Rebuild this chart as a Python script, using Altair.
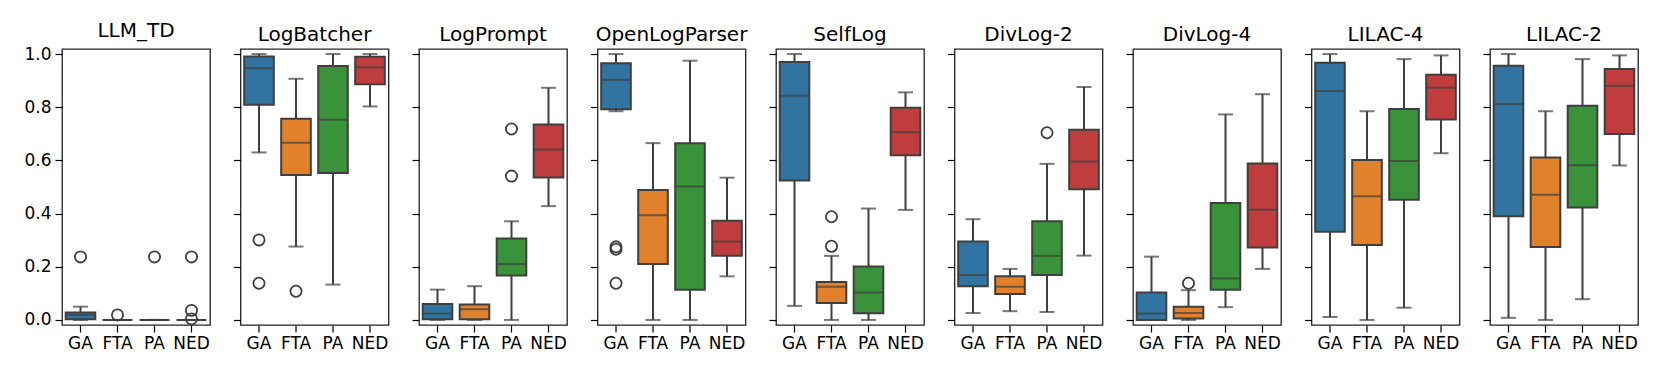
import altair as alt
import pandas as pd

MODELS = ["LLM_TD", "LogBatcher", "LogPrompt", "OpenLogParser", "SelfLog",
          "DivLog-2", "DivLog-4", "LILAC-4", "LILAC-2"]
METRICS = ["GA", "FTA", "PA", "NED"]
COLORS = ["#3274a1", "#e1812c", "#3a923a", "#c03d3e"]

# per model: [GA, FTA, PA, NED]
Q1 = [[0.003, 0.0, 0.0, 0.0], [0.809, 0.545, 0.553, 0.886], [0.003, 0.003, 0.167, 0.536],
      [0.792, 0.210, 0.114, 0.241], [0.524, 0.064, 0.025, 0.619], [0.127, 0.098, 0.169, 0.492],
      [0.0, 0.005, 0.114, 0.272], [0.332, 0.282, 0.452, 0.754], [0.390, 0.274, 0.423, 0.699]]
MED = [[0.019, 0.0, 0.0, 0.0], [0.947, 0.666, 0.753, 0.950], [0.024, 0.040, 0.210, 0.641],
       [0.903, 0.394, 0.502, 0.295], [0.843, 0.125, 0.103, 0.706], [0.169, 0.125, 0.241, 0.596],
       [0.024, 0.026, 0.156, 0.414], [0.861, 0.465, 0.598, 0.873], [0.812, 0.471, 0.582, 0.881]]
Q3 = [[0.028, 0.0, 0.0, 0.0], [0.991, 0.757, 0.955, 0.990], [0.060, 0.058, 0.306, 0.735],
      [0.965, 0.489, 0.665, 0.373], [0.970, 0.143, 0.201, 0.798], [0.295, 0.164, 0.371, 0.715],
      [0.103, 0.050, 0.440, 0.588], [0.967, 0.602, 0.793, 0.922], [0.956, 0.611, 0.806, 0.944]]
LO = [[0.0, 0.0, 0.0, 0.0], [0.630, 0.276, 0.133, 0.803], [0.0, 0.0, 0.0, 0.428],
      [0.785, 0.0, 0.0, 0.164], [0.053, 0.0, 0.0, 0.414], [0.026, 0.033, 0.030, 0.242],
      [0.0, 0.0, 0.048, 0.192], [0.011, 0.0, 0.046, 0.627], [0.008, 0.0, 0.078, 0.581]]
HI = [[0.050, 0.0, 0.0, 0.0], [1.0, 0.907, 1.0, 1.0], [0.114, 0.127, 0.371, 0.873],
      [1.0, 0.665, 0.975, 0.535], [1.0, 0.241, 0.419, 0.856], [0.379, 0.192, 0.587, 0.876],
      [0.238, 0.112, 0.773, 0.849], [1.0, 0.785, 0.981, 0.995], [1.0, 0.785, 0.981, 0.995]]

OUT_MODEL = ["LLM_TD", "LLM_TD", "LLM_TD", "LLM_TD", "LLM_TD", "LLM_TD",
             "LogBatcher", "LogBatcher", "LogBatcher",
             "LogPrompt", "LogPrompt",
             "OpenLogParser", "OpenLogParser", "OpenLogParser",
             "SelfLog", "SelfLog",
             "DivLog-2",
             "DivLog-4"]
OUT_METRIC = ["GA", "FTA", "PA", "NED", "NED", "NED",
              "GA", "GA", "FTA",
              "PA", "PA",
              "GA", "GA", "GA",
              "FTA", "FTA",
              "PA",
              "FTA"]
OUT_VALUE = [0.237, 0.019, 0.237, 0.237, 0.036, 0.004,
             0.301, 0.138, 0.108,
             0.718, 0.541,
             0.275, 0.266, 0.138,
             0.388, 0.277,
             0.704,
             0.138]

rows = []
for i, m in enumerate(MODELS):
    for j, k in enumerate(METRICS):
        rows.append(dict(model=m, metric=k, q1=Q1[i][j], med=MED[i][j], q3=Q3[i][j],
                         lo=LO[i][j], hi=HI[i][j]))
box_df = pd.DataFrame(rows)
out_df = pd.DataFrame(dict(model=OUT_MODEL, metric=OUT_METRIC, value=OUT_VALUE))

LINE = "#3f3f3f"
FONT = "DejaVu Sans"
ydomain = [-0.019, 1.019]


def panel(i, model):
    bd = box_df[box_df.model == model]
    od = out_df[out_df.model == model]
    xenc = alt.X("metric:N", sort=METRICS,
                 scale=alt.Scale(domain=METRICS, paddingInner=0, paddingOuter=0),
                 axis=alt.Axis(title=None, labelAngle=0, labelFontSize=17, labelFont=FONT,
                               labelColor="black", tickColor="black", tickSize=7,
                               tickWidth=1.2, domain=False, labelPadding=3))
    yscale = alt.Scale(domain=ydomain, nice=False, zero=False)
    yaxis = alt.Axis(title=None, values=[0, 0.2, 0.4, 0.6, 0.8, 1.0], format=".1f",
                     labels=(i == 0), labelFontSize=17, labelFont=FONT, labelColor="black",
                     tickColor="black", tickSize=7, tickWidth=1.2, domain=False,
                     grid=False, labelPadding=4)
    base = alt.Chart(bd)
    whisk = base.mark_rule(color=LINE, strokeWidth=2).encode(
        x=xenc, y=alt.Y("lo:Q", scale=yscale, axis=yaxis), y2="hi:Q")
    cap_lo = base.mark_tick(color=LINE, thickness=2, size=15).encode(
        x=xenc, y=alt.Y("lo:Q", scale=yscale))
    cap_hi = base.mark_tick(color=LINE, thickness=2, size=15).encode(
        x=xenc, y=alt.Y("hi:Q", scale=yscale))
    box = base.mark_bar(size=29.6, stroke=LINE, strokeWidth=2).encode(
        x=xenc, y=alt.Y("q1:Q", scale=yscale), y2="q3:Q",
        fill=alt.Fill("metric:N", scale=alt.Scale(domain=METRICS, range=COLORS), legend=None))
    med = base.mark_tick(color=LINE, thickness=2, size=29.6).encode(
        x=xenc, y=alt.Y("med:Q", scale=yscale))
    layers = [whisk, cap_lo, cap_hi, box, med]
    if len(od):
        pts = alt.Chart(od).mark_point(shape="circle", filled=False, size=125, color=LINE,
                                       strokeWidth=1.8, opacity=1).encode(
            x=xenc, y=alt.Y("value:Q", scale=yscale))
        layers.append(pts)
    return alt.layer(*layers).properties(
        width=148, height=276,
        title=alt.TitleParams(model, fontSize=20, font=FONT, fontWeight="normal",
                              color="black", offset=4))


chart = alt.hconcat(*[panel(i, m) for i, m in enumerate(MODELS)], spacing=30.5,
                    bounds="flush").properties(
    padding={"left": 15, "top": 12, "right": 5, "bottom": 5}
).configure_view(stroke="#222222", strokeWidth=1.3)

chart.save("out.html", embed_options={"renderer": "svg", "actions": False})
